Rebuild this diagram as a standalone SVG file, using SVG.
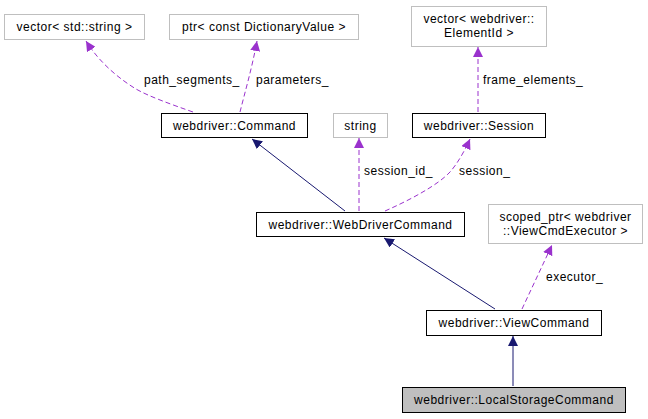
<svg xmlns="http://www.w3.org/2000/svg" width="648" height="419" viewBox="0 0 648 419">
<defs>
<marker id="an" viewBox="0 0 10 10" refX="10" refY="5" markerWidth="10" markerHeight="10" markerUnits="userSpaceOnUse" orient="auto"><path d="M0,0 L10,5 L0,10 z" fill="#191970"/></marker>
<marker id="ap" viewBox="0 0 10 10" refX="10" refY="5" markerWidth="10" markerHeight="10" markerUnits="userSpaceOnUse" orient="auto"><path d="M0,0 L10,5 L0,10 z" fill="#9a32cd"/></marker>
</defs>
<style>
text{font-family:"Liberation Sans",Arial,sans-serif;font-size:12px;letter-spacing:0.5px;fill:#000}
.n text{text-anchor:middle}
.b{fill:#fff;stroke:#000;stroke-width:1}
.g{fill:#fff;stroke:#bfbfbf;stroke-width:1}
.h{fill:#bfbfbf;stroke:#000;stroke-width:1}
.inh{fill:none;stroke:#191970;stroke-width:1}
.use{fill:none;stroke:#9a32cd;stroke-width:1;stroke-dasharray:5,3}
</style>
<rect width="648" height="419" fill="#fff"/>
<g id="connectors">
<path class="inh" d="M345,211 L252,139" marker-end="url(#an)"/>
<path class="inh" d="M495,309 L384,238" marker-end="url(#an)"/>
<path class="inh" d="M513,386 L513,336" marker-end="url(#an)"/>
<path class="use" d="M193,112 C170,104 148,96 136,89 C118,78 99,62 86,41" marker-end="url(#ap)"/>
<path class="use" d="M240,112 C245,92 252,68 257,41" marker-end="url(#ap)"/>
<path class="use" d="M478,112 L478,47" marker-end="url(#ap)"/>
<path class="use" d="M359,211 L359,138" marker-end="url(#ap)"/>
<path class="use" d="M385,211 C410,200 438,185 450,172 C458,163 465,150 470,139" marker-end="url(#ap)"/>
<path class="use" d="M522,309 L552,245" marker-end="url(#ap)"/>
<text x="144" y="84">path_segments_</text>
<text x="256" y="84">parameters_</text>
<text x="483" y="84">frame_elements_</text>
<text x="364" y="175">session_id_</text>
<text x="459" y="175">session_</text>
<text x="546" y="281">executor_</text>
</g>
<g id="vector_string" class="n"><rect class="g" x="4.5" y="14.5" width="140" height="25"/><text x="74.5" y="31">vector&lt; std::string &gt;</text></g>
<g id="ptr_dict" class="n"><rect class="g" x="169.5" y="14.5" width="189" height="25"/><text x="264" y="31">ptr&lt; const DictionaryValue &gt;</text></g>
<g id="vector_elementid" class="n"><rect class="g" x="411.5" y="6.5" width="135" height="40"/><text x="479" y="23">vector&lt; webdriver::</text><text x="479" y="37">ElementId &gt;</text></g>
<g id="Command" class="n"><rect class="b" x="161.5" y="113.5" width="146" height="24"/><text x="234.5" y="130">webdriver::Command</text></g>
<g id="string" class="n"><rect class="g" x="333.5" y="113.5" width="54" height="24"/><text x="360.5" y="130">string</text></g>
<g id="Session" class="n"><rect class="b" x="412.5" y="113.5" width="133" height="24"/><text x="479" y="130">webdriver::Session</text></g>
<g id="WebDriverCommand" class="n"><rect class="b" x="256.5" y="212.5" width="208" height="24"/><text x="360.5" y="229">webdriver::WebDriverCommand</text></g>
<g id="scoped_ptr" class="n"><rect class="g" x="488.5" y="204.5" width="154" height="39"/><text x="565.5" y="221">scoped_ptr&lt; webdriver</text><text x="565.5" y="235">::ViewCmdExecutor &gt;</text></g>
<g id="ViewCommand" class="n"><rect class="b" x="426.5" y="310.5" width="175" height="25"/><text x="514" y="327">webdriver::ViewCommand</text></g>
<g id="LocalStorageCommand" class="n"><rect class="h" x="402.5" y="387.5" width="223" height="25"/><text x="514" y="404">webdriver::LocalStorageCommand</text></g>
</svg>
